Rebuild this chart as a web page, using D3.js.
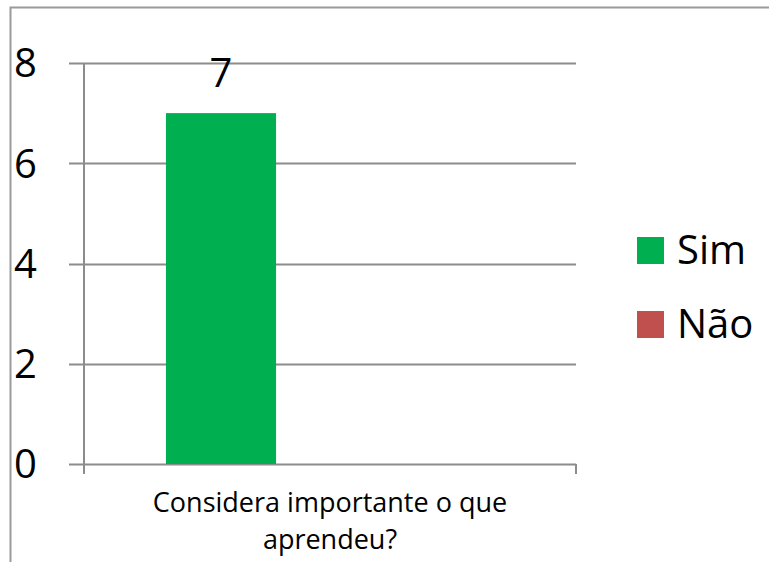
<!DOCTYPE html>
<html><head><meta charset="utf-8">
<script src="https://cdn.jsdelivr.net/npm/d3@7"></script>
<style>body{margin:0;background:#fff}svg{display:block}text{font-family:"Open Sans",sans-serif}</style>
</head><body>
<script>
const categories = ["Considera importante o que aprendeu?"];
const categoryLines = ["Considera importante o que", "aprendeu?"];
const seriesNames = ["Sim", "Não"];
const seriesValues = [[7], [0]];
const seriesColors = ["#00B050", "#C0504D"];
const yTicks = [0, 2, 4, 6, 8];

const W = 769, H = 562;
const svg = d3.select("body").append("svg").attr("width", W).attr("height", H);

// frame (cropped chart area border)
svg.append("path").attr("d", "M10.5,562 V7.5 H769").attr("fill", "none").attr("stroke", "#9a9a9a").attr("stroke-width", 2);

const y = d3.scaleLinear().domain([0, 8]).range([464, 63]);
const x0 = d3.scaleBand().domain(categories).range([84, 576]);
const x1 = d3.scaleBand().domain(seriesNames).range([x0.range()[0], x0.range()[1]]).paddingInner(0.495).paddingOuter(0.376);

const grid = "#8c8c8c";
// gridlines + y ticks
svg.append("g").selectAll("line").data(yTicks).join("line")
  .attr("x1", 69).attr("x2", 576)
  .attr("y1", d => Math.round(y(d)) + 0.5).attr("y2", d => Math.round(y(d)) + 0.5)
  .attr("stroke", grid).attr("stroke-width", 2);
// y axis line
svg.append("line").attr("x1", 84).attr("x2", 84).attr("y1", y(8)).attr("y2", y(0) + 1).attr("stroke", grid).attr("stroke-width", 2);
// x ticks
svg.append("g").selectAll("line").data(x0.range()).join("line")
  .attr("x1", d => d).attr("x2", d => d).attr("y1", y(0)).attr("y2", y(0) + 10)
  .attr("stroke", grid).attr("stroke-width", 2);

// y labels
svg.append("g").selectAll("text").data(yTicks).join("text")
  .attr("x", 14).attr("y", d => y(d)).attr("dy", "0.36em")
  .attr("font-size", 40).attr("fill", "#000").text(d => d);

// bars
seriesNames.forEach((s, si) => {
  const g = svg.append("g");
  categories.forEach((c, ci) => {
    const v = seriesValues[si][ci];
    g.append("rect")
      .attr("x", x0(c) + x1(s) - x0.range()[0]).attr("width", x1.bandwidth())
      .attr("y", y(v)).attr("height", y(0) - y(v))
      .attr("fill", seriesColors[si]);
    if (v > 0) {
      g.append("text").attr("x", x0(c) + x1(s) - x0.range()[0] + x1.bandwidth() / 2)
        .attr("y", y(v) - 26).attr("text-anchor", "middle")
        .attr("font-size", 40).attr("fill", "#000").text(v);
    }
  });
});

// category label
const cx = x0(categories[0]) + x0.bandwidth() / 2;
svg.append("g").selectAll("text").data(categoryLines).join("text")
  .attr("x", cx).attr("y", (d, i) => 512 + i * 37).attr("text-anchor", "middle")
  .attr("font-size", 27).attr("fill", "#000").text(d => d);

// legend
const lg = svg.append("g").selectAll("g").data(seriesNames).join("g")
  .attr("transform", (d, i) => `translate(637,${237 + i * 74})`);
lg.append("rect").attr("width", 27).attr("height", 27).attr("fill", (d, i) => seriesColors[i]);
lg.append("text").attr("x", 40).attr("y", 27).attr("font-size", 40).attr("fill", "#000").text(d => d);
</script>
</body></html>
